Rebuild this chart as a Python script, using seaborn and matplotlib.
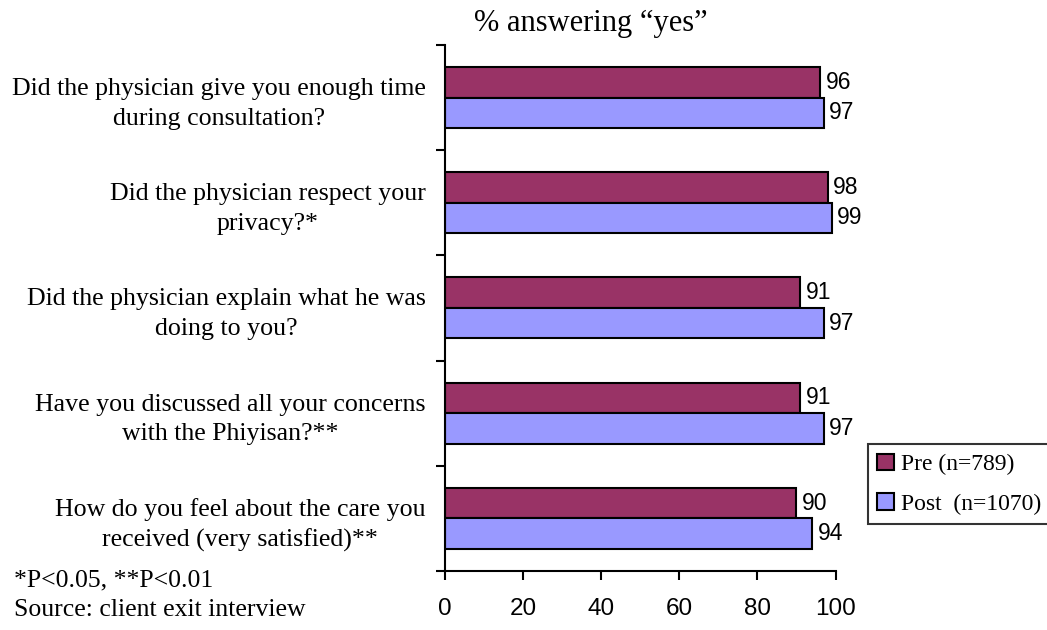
import matplotlib
matplotlib.use("Agg")
import matplotlib.pyplot as plt
from matplotlib.patches import Patch
from matplotlib.ticker import FixedLocator
import seaborn as sns
import pandas as pd

questions = [
    "Did the physician give you enough time\nduring consultation?",
    "Did the physician respect your\nprivacy?*",
    "Did the physician explain what he was\ndoing to you?",
    "Have you discussed all your concerns\nwith the Phiyisan?**",
    "How do you feel about the care you\nreceived (very satisfied)**",
]
pre_values = [96, 98, 91, 91, 90]
post_values = [97, 99, 97, 97, 94]
series_names = ["Pre (n=789)", "Post  (n=1070)"]
series_colors = ["#993366", "#9999FF"]
x_ticks = [0, 20, 40, 60, 80, 100]

df = pd.DataFrame({
    "question": questions * 2,
    "value": pre_values + post_values,
    "group": [series_names[0]] * len(questions) + [series_names[1]] * len(questions),
})

sns.set_theme(style="white")
plt.rcParams.update({
    "text.color": "black",
    "xtick.labelcolor": "black",
    "ytick.labelcolor": "black",
    "xtick.color": "black",
    "ytick.color": "black",
})
serif = ["Liberation Serif", "DejaVu Serif"]
sans = ["Liberation Sans", "DejaVu Sans"]

fig = plt.figure(figsize=(10.47, 6.30), dpi=100)
ax = fig.add_axes([0.425, 0.0937, 0.373, 0.835])

sns.barplot(data=df, y="question", x="value", hue="group", orient="h",
            palette=series_colors, width=0.58, edgecolor="black",
            linewidth=1.5, saturation=1, legend=False, ax=ax)

for cont in ax.containers:
    ax.bar_label(cont, fmt="%d", padding=4, fontsize=16.5,
                 family=sans, color="black")

ax.set_xlim(0, 100)
ax.set_ylim(len(questions) - 0.5, -0.5)
ax.set_xlabel("")
ax.set_ylabel("")
ax.set_xticks(x_ticks)
ax.set_xticklabels([str(t) for t in x_ticks], fontsize=17.5, family=sans)
ax.tick_params(axis="x", direction="out", length=6.5, width=1.5,
               color="black", pad=13, bottom=True)
ax.set_yticks(range(len(questions)))
ax.set_yticklabels(questions, fontsize=18.6, family=serif,
                   multialignment="center", linespacing=1.45)
ax.tick_params(axis="y", which="major", length=0, pad=14)
ax.yaxis.set_minor_locator(FixedLocator([i - 0.5 for i in range(len(questions) + 1)]))
ax.tick_params(axis="y", which="minor", direction="out", length=6.5,
               width=1.5, color="black", left=True)

for side in ["top", "right"]:
    ax.spines[side].set_visible(False)
for side in ["left", "bottom"]:
    ax.spines[side].set_color("black")
    ax.spines[side].set_linewidth(1.5)

fig.text(0.564, 0.962, "% answering \u201cyes\u201d", ha="center", va="center",
         fontsize=22, family=serif)
fig.text(0.013, 0.078, "*P<0.05, **P<0.01", ha="left", va="center",
         fontsize=18.5, family=serif)
fig.text(0.013, 0.031, "Source: client exit interview", ha="left",
         va="center", fontsize=18.5, family=serif)

handles = [Patch(facecolor=c, edgecolor="black", linewidth=1.5)
           for c in series_colors]
leg = fig.legend(handles, series_names, loc="upper left",
                 bbox_to_anchor=(0.829, 0.295), frameon=True, fancybox=False,
                 prop={"family": serif, "size": 17}, handlelength=0.72,
                 handleheight=0.72, handletextpad=0.3, borderpad=0.4,
                 labelspacing=0.75, borderaxespad=0)
leg.get_frame().set_edgecolor("black")
leg.get_frame().set_linewidth(1.5)

fig.savefig("out.png", dpi=100)
